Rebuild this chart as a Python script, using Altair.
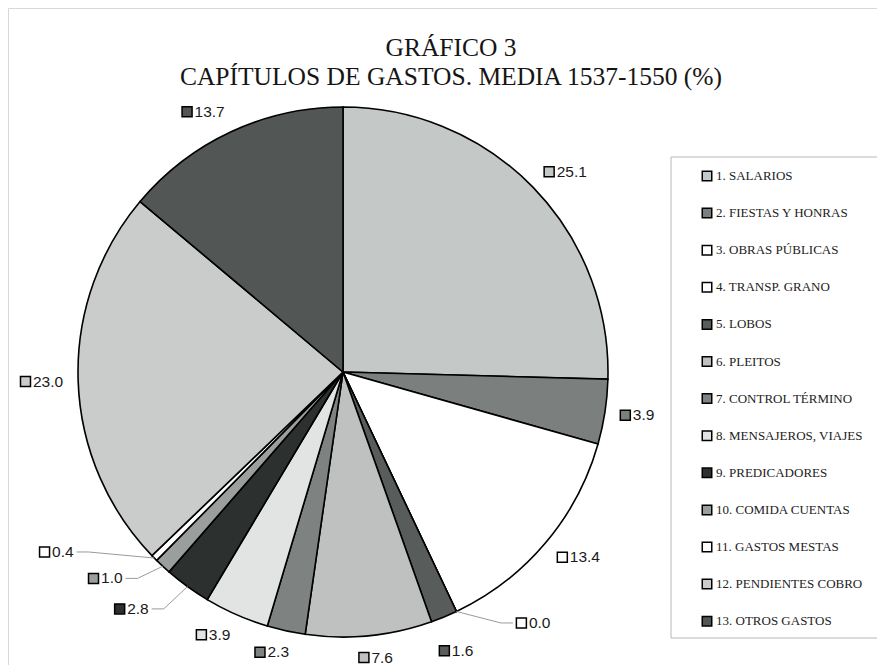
import altair as alt
import numpy as np
import pandas as pd

# ---------------- data ----------------
categories = [
    "1. SALARIOS", "2. FIESTAS Y HONRAS", "3. OBRAS PÚBLICAS", "4. TRANSP. GRANO",
    "5. LOBOS", "6. PLEITOS", "7. CONTROL TÉRMINO", "8. MENSAJEROS, VIAJES",
    "9. PREDICADORES", "10. COMIDA CUENTAS", "11. GASTOS MESTAS",
    "12. PENDIENTES COBRO", "13. OTROS GASTOS",
]
values = [25.1, 3.9, 13.4, 0.0, 1.6, 7.6, 2.3, 3.9, 2.8, 1.0, 0.4, 23.0, 13.7]
title_lines = ["GRÁFICO 3", "CAPÍTULOS DE GASTOS. MEDIA 1537-1550 (%)"]

# ---------------- styles / layout ----------------
grays = ["#c4c8c6", "#7b7f7d", "#ffffff", "#ffffff", "#585c5a", "#bec1bf",
         "#7e8280", "#e2e4e3", "#2c302e", "#9a9e9c", "#ffffff", "#c9cccb", "#525654"]
W, H = 869, 657
CX, CY, R = 335, 364, 265
RL = 280          # label ring
FS = 15.5         # label font size
SW = 13           # swatch + gap width
LEG_X, LEG_Y0, LEG_STEP = 699, 168, 37.1
# manually dragged labels (as in the original), offsets in px
nudges = {3: (53, -8.4), 4: (-11, 13.5), 8: (-30, 4.5), 9: (-30, -4), 10: (-70, -21.5)}
leaders = [3, 8, 9, 10]

df = pd.DataFrame({"cat": categories, "value": values, "idx": range(len(values)), "gray": grays})
total = df["value"].sum()
cum = df["value"].cumsum() - df["value"]
ang = (cum + df["value"] / 2) / total * 2 * np.pi
s, c = np.sin(ang), np.cos(ang)
df["label"] = [f"{v:.1f}" for v in values]
twidth = [(sum(ch.isdigit() for ch in t) * 0.556 + t.count(".") * 0.278) * FS for t in df["label"]]
df["w"] = np.array(twidth) + SW
cxl = CX + RL * s + (df["w"] / 2) * np.clip(3 * s, -1, 1)
cyl = CY - RL * c - 7 * c
for i, (dx, dy) in nudges.items():
    cxl[i] += dx
    cyl[i] += dy
df["lx"] = cxl - df["w"] / 2
df["ly"] = cyl
df["sx"] = df["lx"] + 5.5
df["tx"] = df["lx"] + SW
# legend rows
df["gy"] = LEG_Y0 + df["idx"] * LEG_STEP
df["gsx"] = LEG_X
df["gtx"] = LEG_X + 9

# leader lines
rows = []
for i in leaders:
    ex, ey = CX + R * s[i], CY - R * c[i]
    if s[i] > 0:
        ax = df["lx"][i] - 3
        stub = ax - 12
    else:
        ax = df["lx"][i] + df["w"][i] + 3
        stub = ax + 12
    ly = df["ly"][i]
    rows += [{"k": i, "o": 0, "x": ax, "y": ly},
             {"k": i, "o": 1, "x": stub, "y": ly},
             {"k": i, "o": 2, "x": ex, "y": ey}]
lead = pd.DataFrame(rows)

xs = alt.Scale(domain=[0, W], range=[0, W], nice=False, zero=False)
ys = alt.Scale(domain=[0, H], range=[0, H], nice=False, zero=False)

base = alt.Chart(df)

pie = base.mark_arc(outerRadius=R, stroke="black", strokeWidth=1.6).encode(
    theta=alt.Theta("value:Q", stack=True),
    order=alt.Order("idx:Q"),
    fill=alt.Fill("gray:N", scale=None),
    x=alt.value(CX),
    y=alt.value(CY),
)

lines = alt.Chart(lead).mark_line(color="#9a9a9a", strokeWidth=1).encode(
    x=alt.X("x:Q", scale=xs, axis=None),
    y=alt.Y("y:Q", scale=ys, axis=None),
    detail="k:N",
    order="o:Q",
)

sw = base.mark_square(size=100, stroke="black", strokeWidth=1.5, opacity=1).encode(
    x=alt.X("sx:Q", scale=xs, axis=None),
    y=alt.Y("ly:Q", scale=ys, axis=None),
    fill=alt.Fill("gray:N", scale=None),
)

txt = base.mark_text(align="left", baseline="middle", font="Liberation Sans",
                     fontSize=FS, color="#1a1a1a").encode(
    x=alt.X("tx:Q", scale=xs, axis=None),
    y=alt.Y("ly:Q", scale=ys, axis=None),
    text="label:N",
)

leg_sw = base.mark_square(size=90, stroke="black", strokeWidth=1.5, opacity=1).encode(
    x=alt.X("gsx:Q", scale=xs, axis=None),
    y=alt.Y("gy:Q", scale=ys, axis=None),
    fill=alt.Fill("gray:N", scale=None),
)
leg_txt = base.mark_text(align="left", baseline="middle", font="Liberation Serif",
                         fontSize=13, color="#222222").encode(
    x=alt.X("gtx:Q", scale=xs, axis=None),
    y=alt.Y("gy:Q", scale=ys, axis=None),
    text="cat:N",
)

one = alt.Chart(pd.DataFrame({"a": [0]}))
box = one.mark_rect(fillOpacity=0, stroke="#b8b8b8", strokeWidth=1).encode(
    x=alt.value(663), x2=alt.value(880), y=alt.value(149), y2=alt.value(630)
)
t1 = one.mark_text(text=title_lines[0], font="Liberation Serif", fontSize=25.5,
                   color="#151515", baseline="middle", align="center").encode(
    x=alt.value(443), y=alt.value(40))
t2 = one.mark_text(text=title_lines[1], font="Liberation Serif", fontSize=25.5,
                   color="#151515", baseline="middle", align="center").encode(
    x=alt.value(443), y=alt.value(69))

chart = alt.layer(box, pie, lines, sw, txt, leg_sw, leg_txt, t1, t2).properties(
    width=W, height=H, padding=0, autosize=alt.AutoSizeParams(type="none"),
    background="white",
).configure_view(stroke="#d8d8d8")

chart.save("out.html", embed_options={"renderer": "svg", "actions": False})
